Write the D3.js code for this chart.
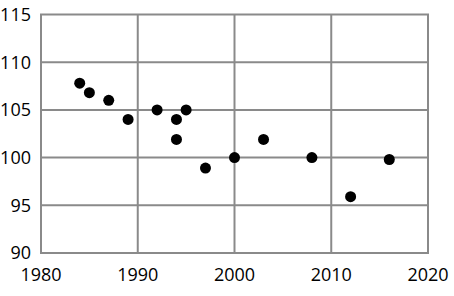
<!DOCTYPE html>
<html>
<head>
<meta charset="utf-8">
<script src="https://cdn.jsdelivr.net/npm/d3@7"></script>
<style>
  body { margin: 0; background: #fff; }
  svg text { font-family: "Open Sans", sans-serif; font-size: 18px; fill: #000; }
</style>
</head>
<body>
<svg id="chart" width="454" height="296"></svg>
<script>
// data
var years = [1984, 1985, 1987, 1989, 1992, 1994, 1994, 1995, 1997, 2000, 2003, 2008, 2012, 2016];
var values = [107.8, 106.8, 106, 104, 105, 104, 101.9, 105, 98.9, 100, 101.9, 100, 95.9, 99.8];
var xTicks = [1980, 1990, 2000, 2010, 2020];
var yTicks = [90, 95, 100, 105, 110, 115];

var margin = {top: 14.5, right: 26, bottom: 43, left: 41};
var width = 454 - margin.left - margin.right;
var height = 296 - margin.top - margin.bottom;

var svg = d3.select('#chart');
var g = svg.append('g').attr('transform', 'translate(' + margin.left + ',' + margin.top + ')');

var x = d3.scaleLinear().domain([1980, 2020]).range([0, width]);
var y = d3.scaleLinear().domain([90, 115]).range([height, 0]);

var gridColor = '#8a8a8a';

// grid lines
g.selectAll('line.vgrid').data(xTicks).enter().append('line')
    .attr('class', 'vgrid')
    .attr('x1', function (d) { return x(d); })
    .attr('x2', function (d) { return x(d); })
    .attr('y1', 0)
    .attr('y2', height)
    .style('stroke', gridColor)
    .style('stroke-width', 2);

g.selectAll('line.hgrid').data(yTicks).enter().append('line')
    .attr('class', 'hgrid')
    .attr('x1', -1)
    .attr('x2', width + 1)
    .attr('y1', function (d) { return y(d); })
    .attr('y2', function (d) { return y(d); })
    .style('stroke', gridColor)
    .style('stroke-width', 2);

// tick labels
g.selectAll('text.ylab').data(yTicks).enter().append('text')
    .attr('class', 'ylab')
    .attr('x', -10)
    .attr('y', function (d) { return y(d); })
    .attr('dy', '0.36em')
    .attr('text-anchor', 'end')
    .text(function (d) { return d; });

g.selectAll('text.xlab').data(xTicks).enter().append('text')
    .attr('class', 'xlab')
    .attr('x', function (d) { return x(d); })
    .attr('y', height + 28)
    .attr('text-anchor', 'middle')
    .text(function (d) { return d; });

// points
g.selectAll('circle').data(years).enter().append('circle')
    .attr('cx', function (d) { return x(d); })
    .attr('cy', function (d, i) { return y(values[i]); })
    .attr('r', 5.5)
    .attr('fill', '#000');
</script>
</body>
</html>
